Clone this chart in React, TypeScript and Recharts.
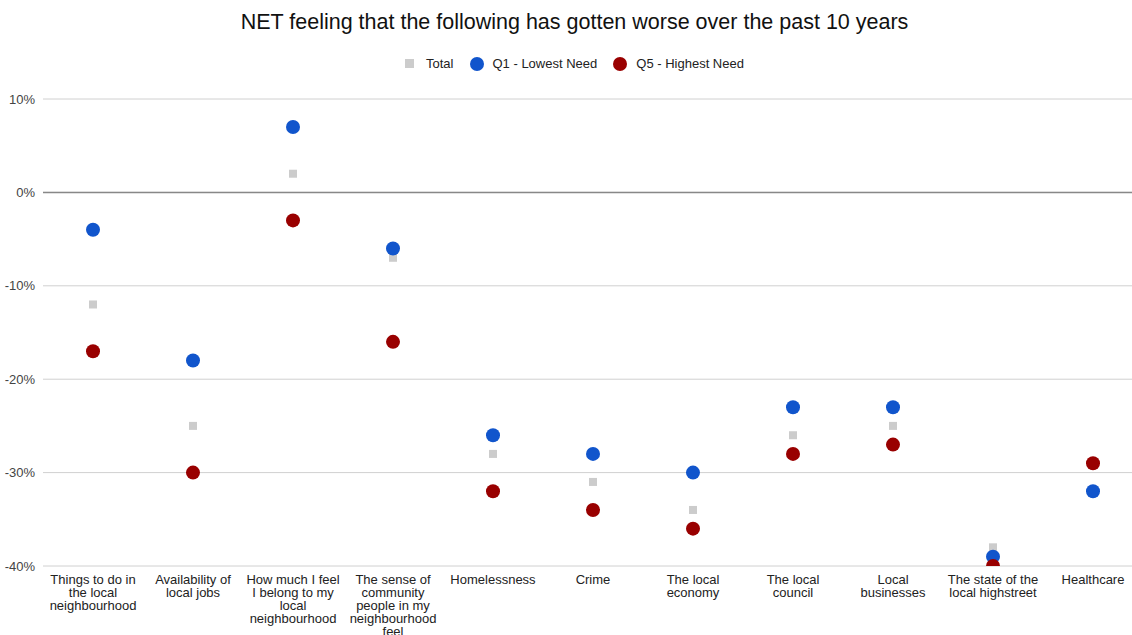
import {
  ComposedChart, Scatter, XAxis, YAxis, CartesianGrid, ReferenceLine,
} from 'recharts';

const categories = [
  'Things to do in the local neighbourhood',
  'Availability of local jobs',
  'How much I feel I belong to my local neighbourhood',
  'The sense of community people in my neighbourhood feel',
  'Homelessness',
  'Crime',
  'The local economy',
  'The local council',
  'Local businesses',
  'The state of the local highstreet',
  'Healthcare',
];
const total = [-12, -25, 2, -7, -28, -31, -34, -26, -25, -38, null];
const q1LowestNeed = [-4, -18, 7, -6, -26, -28, -30, -23, -23, -39, -32];
const q5HighestNeed = [-17, -30, -3, -16, -32, -34, -36, -28, -27, -40, -29];
const yTicks = [-40, -30, -20, -10, 0, 10];

const data = categories.map((name, i) => ({
  name,
  total: total[i],
  q1: q1LowestNeed[i],
  q5: q5HighestNeed[i],
}));

const GRAY = '#cccccc';
const BLUE = '#1155cc';
const RED = '#990000';
const FONT = '"Liberation Sans", Arial, sans-serif';

// marcadores: cuadrado chico para Total, círculos para los quintiles
const squareShape = (props: any) => {
  const { cx, cy } = props;
  if (!Number.isFinite(cx) || !Number.isFinite(cy)) return <g />;
  return <rect x={cx - 4} y={cy - 4} width={8} height={8} fill={GRAY} />;
};
const circleShape = (color: string) => (props: any) => {
  const { cx, cy } = props;
  if (!Number.isFinite(cx) || !Number.isFinite(cy)) return <g />;
  return <circle cx={cx} cy={cy} r={7} fill={color} />;
};

// corte de líneas medido con canvas, así el ancho coincide con la fuente real
let ctx: CanvasRenderingContext2D | null = null;
function wrapLabel(label: string, maxWidth: number): string[] {
  if (!ctx) {
    ctx = document.createElement('canvas').getContext('2d');
    if (ctx) ctx.font = '13px "Liberation Sans", Arial, sans-serif';
  }
  const words = label.split(' ');
  const lines: string[] = [];
  let cur = '';
  for (const w of words) {
    const next = cur ? `${cur} ${w}` : w;
    const width = ctx ? ctx.measureText(next).width : next.length * 6.5;
    if (cur && width > maxWidth) {
      lines.push(cur);
      cur = w;
    } else {
      cur = next;
    }
  }
  if (cur) lines.push(cur);
  return lines;
}

function CategoryTick({ x, y, payload }: any) {
  const lines = wrapLabel(String(payload.value), 96);
  return (
    <text x={x} y={y + 10} textAnchor="middle" fontSize={13} fontFamily={FONT} fill="#222">
      {lines.map((ln, i) => (
        <tspan key={i} x={x} dy={i === 0 ? 0 : 13}>{ln}</tspan>
      ))}
    </text>
  );
}

const legendItems = [
  { label: 'Total', color: GRAY, square: true },
  { label: 'Q1 - Lowest Need', color: BLUE, square: false },
  { label: 'Q5 - Highest Need', color: RED, square: false },
];

function ChartLegend() {
  return (
    <div style={{ position: 'absolute', top: 56, left: 0, width: 1149, display: 'flex', justifyContent: 'center', alignItems: 'center', gap: 16, fontSize: 13, color: '#222' }}>
      {legendItems.map((it) => (
        <div key={it.label} style={{ display: 'flex', alignItems: 'center' }}>
          <span
            style={{
              display: 'inline-block',
              width: it.square ? 9 : 14,
              height: it.square ? 9 : 14,
              borderRadius: it.square ? 0 : 7,
              background: it.color,
              marginRight: it.square ? 12 : 9,
            }}
          />
          {it.label}
        </div>
      ))}
    </div>
  );
}

export default function App() {
  return (
    <div style={{ position: 'absolute', left: 0, top: 0, width: 1132, height: 635, overflow: 'hidden', background: '#fff', fontFamily: FONT }}>
      <ComposedChart width={1143} height={635} data={data} margin={{ top: 99, right: 0, bottom: 0, left: 0 }}>
        <CartesianGrid vertical={false} stroke="#d0d0d0" />
        <XAxis
          dataKey="name"
          axisLine={false}
          tickLine={false}
          interval={0}
          height={69}
          padding={{ left: 50, right: 50 }}
          tick={<CategoryTick />}
        />
        <YAxis
          type="number"
          domain={[-40, 10]}
          ticks={yTicks}
          allowDataOverflow
          width={43}
          axisLine={false}
          tickLine={false}
          tickFormatter={(v: number) => `${v}%`}
          tick={{ fill: '#444', fontSize: 13, fontFamily: FONT }}
        />
        <ReferenceLine y={0} stroke="#888" strokeWidth={1.5} />
        <Scatter dataKey="total" name="Total" fill={GRAY} shape={squareShape} isAnimationActive={false} />
        <Scatter dataKey="q1" name="Q1 - Lowest Need" fill={BLUE} shape={circleShape(BLUE)} isAnimationActive={false} />
        <Scatter dataKey="q5" name="Q5 - Highest Need" fill={RED} shape={circleShape(RED)} isAnimationActive={false} />
      </ComposedChart>
      <div style={{ position: 'absolute', top: 10, left: 0, width: 1149, textAlign: 'center', fontSize: 21.5, color: '#111' }}>
        NET feeling that the following has gotten worse over the past 10 years
      </div>
      <ChartLegend />
    </div>
  );
}
